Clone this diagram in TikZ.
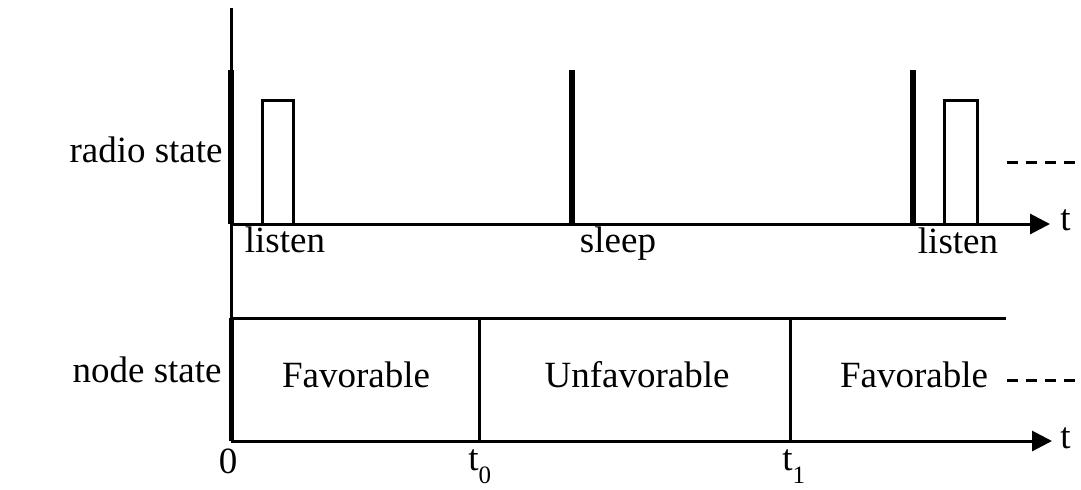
\documentclass[tikz,border=0pt]{standalone}
\usepackage{fontspec}
\setmainfont{Liberation Serif}
\usetikzlibrary{arrows.meta}
\newcommand{\tsub}[1]{\raisebox{-6.5pt}{\fontsize{12.5}{12.5}\selectfont #1}}

\begin{document}
\begin{tikzpicture}[
    x=0.5pt, y=-0.5pt,
    font=\fontsize{18.5}{22}\selectfont,
    line join=miter,
    axis/.style={line width=1.5pt, -{Triangle[length=10pt,width=10pt]}},
    frame/.style={line width=1.5pt},
    pulse/.style={line width=3pt},
    listenbox/.style={line width=1.5pt},
    dots/.style={line width=1.5pt, dash pattern=on 5.5pt off 4pt},
    lbl/.style={inner sep=0pt},
]
\useasboundingbox (0,0) rectangle (1081,489);

% ---------------------------------------------------------- coordinates ---
\coordinate (top)   at (231,8);
\coordinate (ro)    at (231,224);
\coordinate (rend)  at (1050,224);
\coordinate (ntop)  at (231,318);
\coordinate (nend)  at (1006,318);
\coordinate (no)    at (231,441);
\coordinate (nendx) at (1052,441);

% --------------------------------------------------------- radio state ---
\draw[frame] (top) -- (no);
\draw[axis] (ro) -- (rend);
\node[lbl, anchor=base west] (tupper) at (1060,230) {t};
\node[lbl, anchor=base east] (radiolbl) at (223,162) {radio state};

\foreach \x in {231,572,913}
  \draw[pulse] (\x,224) -- (\x,70);
\draw[listenbox] (262,224) rectangle (293,100);
\draw[listenbox] (944,224) rectangle (977,100);

\node[lbl, anchor=base] (listenA) at (285,252) {listen};
\node[lbl, anchor=base] (sleepB)  at (618,252) {sleep};
\node[lbl, anchor=base] (listenC) at (958,253) {listen};
\draw[dots] (1007,162) -- (1077,162);

% ---------------------------------------------------------- node state ---
\draw[frame] (ntop) -- (nend);
\draw[line width=2.5pt] (ntop) -- (no);
\draw[axis] (no) -- (nendx);
\foreach \x in {479,790}
  \draw[frame] (\x,318) -- (\x,441);
\node[lbl, anchor=base west] (tlower) at (1060,448) {t};
\node[lbl, anchor=base east] (nodelbl) at (222,382) {node state};

\node[lbl, anchor=base] (favA)  at (356,387) {Favorable};
\node[lbl, anchor=base] (unfav) at (637,387) {Unfavorable};
\node[lbl, anchor=base] (favC)  at (914,387) {Favorable};
\draw[dots] (1007,380) -- (1077,380);

\node[lbl, anchor=base] (zero) at (228,473) {0};
\node[lbl, anchor=base west] (tzero) at (468,470) {t\tsub{0}};
\node[lbl, anchor=base west] (tone)  at (782,470) {t\tsub{1}};

\end{tikzpicture}
\end{document}
